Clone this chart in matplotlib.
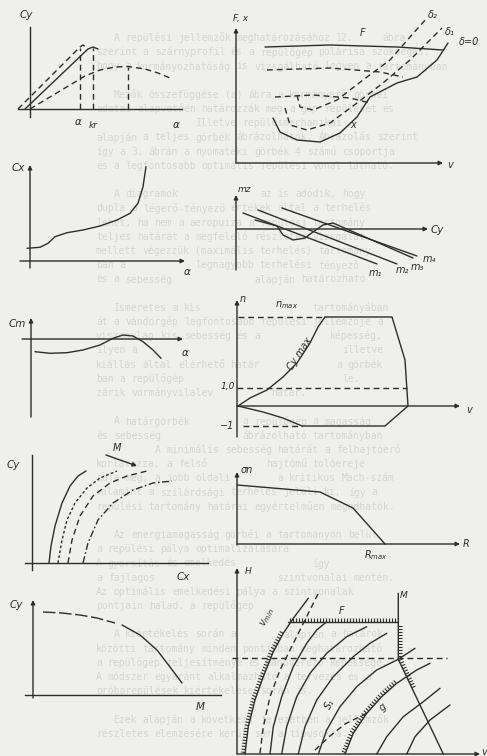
import re
import numpy as np
import matplotlib
matplotlib.use("Agg")
import matplotlib.pyplot as plt
from matplotlib.collections import LineCollection
from matplotlib.transforms import Bbox

W, H = 487, 756
INK = "#2d2d2d"
PAPER = "#efefed"
GHOST = "#d5d5d5"
GHOST_SIZE = 7.0
LW = 1.0
DASH = (0, (4.2, 2.8))

plt.rcParams["font.family"] = ["DejaVu Sans"]

# ---- Cy(alpha) ----
lift_a = [(-12, 0), (50, 62), (53, 64), (56, 62)]
lift_b = [(-5, 0), (58, 60), (63, 62), (68, 60)]
lift_c = [(0, 0), (30, 18), (55, 33), (70, 39), (85, 42), (98, 42.5), (115, 40), (128, 36), (140, 31)]
lift_drops = [(50, 61), (63, 61), (98, 42)]

# ---- F, x (v) ----
force_f = [(29, 116), (94, 118), (161, 116), (207, 113)]
force_d1 = [(31, 93), (94, 95), (144, 91), (167, 86)]
force_d2 = [(39, 66), (77, 68), (114, 65), (134, 60)]
stick_0 = [(37, 45), (44, 31), (61, 23), (84, 21), (104, 30), (121, 46), (134, 66),
           (161, 80), (181, 86), (201, 103), (212, 120)]
stick_1 = [(49, 55), (54, 38), (71, 33), (94, 40), (121, 60), (147, 80), (174, 103), (194, 123), (206, 135)]
stick_2 = [(61, 68), (64, 56), (77, 53), (101, 63), (127, 83), (154, 103), (174, 126), (191, 145)]

# ---- Cx(alpha) ----
drag = [(-3, 12.7), (10, 13.7), (18, 17.7), (25, 24.3), (37, 28.3), (53, 31), (70, 35),
        (87, 41), (100, 47.7), (108, 57.7), (113, 74.3), (116, 94.3)]

# ---- mz(Cy) ----
moment_m1 = [(7, 16), (141, -35)]
moment_m2 = [(22, 19), (161, -35)]
moment_m3 = [(19, 9), (41, 3), (47, -6), (57, -11), (69, -9), (77, -3), (87, 4), (97, 6), (177, -29)]
moment_m4 = [(46, 21), (181, -27)]
moment_tags = ["m₁", "m₂", "m₃", "m₄"]

# ---- Cm(alpha) ----
pitch = [(4, -12.7), (19, -14.3), (36, -13.7), (52, -11), (69, -6), (82, 0.7), (92, 4),
         (102, 3), (112, -2.7), (122, -11), (130, -19.3)]

# ---- n(v) envelope ----
load_env = [(88, 89), (155, 89), (168, 46), (171, 0), (148, -20), (65, -20), (46, -12), (26, -6), (1, 0)]
load_cymax = [(1, 0), (13, 8), (30, 16), (46, 29), (60, 43), (73, 63), (81, 79), (88, 89)]
load_levels = {"nmax": 89, "one": 18, "minus": -20}

# ---- Cy(Cx) polars ----
polar_1 = [(17, 0), (19, 17), (23, 37), (30, 60), (38, 77), (46, 87), (54, 92)]
polar_2 = [(26, 0), (30, 23), (35, 43), (43, 60), (55, 75), (68, 85), (85, 92)]
polar_3 = [(36, 0), (40, 23), (48, 47), (61, 67), (78, 80), (95, 87), (115, 92)]
polar_4 = [(51, 0), (56, 20), (66, 43), (81, 60), (101, 73), (121, 80), (140, 82)]

# ---- sigma_n(R) ----
turn = [(0, 59), (83, 52), (116, 36), (148, 0)]

# ---- Cy(M) ----
mach_dash = [(10, 83), (29, 82), (47, 80), (64, 77), (82, 72)]
mach_solid = [(89, 70), (107, 60), (124, 45), (137, 28), (149, 12)]

# ---- H(v) flight envelope ----
env_vmin = [(8, 0), (11.3, 27.3), (18, 54), (26.3, 77.3), (36.3, 102.3), (46.3, 120.7),
            (56.3, 135.7), (71.3, 155.7)]
env_dashed = [(23, 0.7), (26.3, 27.3), (33, 57.3), (43, 84), (54.7, 107.3), (66.3, 130.7), (81.3, 160.7)]
env_family = [
    [(33, 0), (36.3, 27.3), (44.7, 57.3), (56.3, 87.3), (69.7, 110.7), (79.7, 124), (89.7, 132.3)],
    [(44.7, 0), (49.7, 27.3), (59.7, 57.3), (73, 80.7), (89.7, 100.7), (109.7, 117.3), (129.7, 127.3)],
    [(61.3, 0), (68, 27.3), (79.7, 54), (96.3, 77.3), (116.3, 97.3), (133, 110.7), (149.7, 120.7)],
    [(81.3, 0), (89.7, 24), (103, 47.3), (119.7, 67.3), (139.7, 84), (161.3, 94.7), (178, 105.7)],
    [(108, 0), (116.3, 20.7), (129.7, 40.7), (144.7, 57.3), (159.7, 70.7), (179.7, 84), (193, 90.7)],
    [(139.7, 0), (149.7, 17.3), (166.3, 37.3), (186.3, 52.3), (203, 65.7)],
    [(169.7, 0), (178, 17.3), (193, 34), (213, 49)],
]
env_g_dash = [(78, 4), (93, 18), (108, 30), (129.7, 40.7)]
env_ceiling = [(51.3, 132.3), (161.3, 132.3)]
env_mach = [(161.3, 160.7), (161.3, 94.7), (206.3, 0)]
env_level = 95.7

page_text = [
    "   A repülési jellemzők meghatározásához 12. sz. ábra",
    "szerint a szárnyprofil és a repülőgép polárisa szükséges,",
    "hogy a kormányozhatóság is vizsgálható legyen a tartományban",
    "",
    "   Mezők összefüggése (a) ábra a kormányerő görbéi",
    "adatai alapvetően határozzák meg a gép repülését és",
    "aerodinamikáját. Illetve repülésmechanikai diagramok",
    "alapján a teljes görbék ábrázolhatók. Ábrázolás szerint",
    "így a 3. ábrán a nyomatéki görbék 4 számú csoportja",
    "és a legfontosabb optimális repülési vonal látható.",
    "",
    "   A diagramok segítségével az is adódik, hogy",
    "dupla a légerő-tényező értékek által a terhelés",
    "lehet, ha nem a aeropuiza a repülési tartomány",
    "teljes határát a megfelelő részletes vizsgálat",
    "mellett végezzük (maximális terhelés) tartomány-",
    "ban a mindenkori legnagyobb terhelési tényező",
    "és a sebesség összefüggése alapján határozható meg.",
    "",
    "   Ismeretes a kis magasságú repülés tartományában",
    "át a vándorgép legfontosabb repülési jellemzője a",
    "viszonylag kis sebesség és a manőverező képesség,",
    "ilyen a szárny-rendszerek terhelhetősége, illetve",
    "kiállás által elérhető határ sugár. Ezek a görbék",
    "ban a repülőgép ábrázolt tartománya zárul le.",
    "zárik vormányvilalev repülési határ.",
    "",
    "   A határgörbék szerint a repülőgép a magasság",
    "és sebesség függvényében ábrázolható tartományban",
    "mozoghat. A minimális sebesség határát a felhajtóerő",
    "korlátozza, a felső határt a hajtómű tolóereje",
    "adja meg, a jobb oldali határt a kritikus Mach-szám",
    "valamint a szilárdsági terhelés jelöli ki, így a",
    "repülési tartomány határai egyértelműen megadhatók.",
    "",
    "   Az energiamagasság görbéi a tartományon belül",
    "a repülési pálya optimalizálására használhatók.",
    "A gyorsítás és emelkedés lehetőségei így adódnak,",
    "a fajlagos többletteljesítmény szintvonalai mentén.",
    "Az optimális emelkedési pálya a szintvonalak érintési",
    "pontjain halad, a repülőgép típusától függően.",
    "",
    "   A kiértékelés során a görbék alapján a határok",
    "közötti tartomány minden pontjában meghatározható",
    "a repülőgép teljesítménye és manőverező képessége.",
    "A módszer egyaránt alkalmazható a tervezés és a",
    "próbarepülések kiértékelése során is.",
    "",
    "   Ezek alapján a következő fejezetben a jellemzők",
    "részletes elemzésére kerül sor a típusokra.",
    "",
]

labels_drawn = []


def new_panel(ox, oy, x0, x1, y0, y1):
    ax = fig.add_axes([(ox + x0) / W, 1 - (oy - y0) / H, (x1 - x0) / W, (y1 - y0) / H])
    ax.set_xlim(x0, x1)
    ax.set_ylim(y0, y1)
    ax.axis("off")
    return ax


def axis_line(ax, p0, p1, arrow=True):
    if arrow:
        ax.annotate("", xy=p1, xytext=p0,
                    arrowprops=dict(arrowstyle="-|>", color=INK, lw=LW, mutation_scale=6,
                                    shrinkA=0, shrinkB=0))
    else:
        ax.plot([p0[0], p1[0]], [p0[1], p1[1]], color=INK, lw=LW)


def curve(ax, pts, ls="-", lw=LW):
    x, y = np.array(pts, float).T
    ax.plot(x, y, color=INK, lw=lw, linestyle=ls, solid_capstyle="round",
            solid_joinstyle="round", dash_capstyle="butt")


def label(ax, x, y, s, size=7.5, **kw):
    kw.setdefault("ha", "center")
    kw.setdefault("va", "center")
    labels_drawn.append(ax.text(x, y, s, color=INK, fontsize=size, style="italic", **kw))


def hatch(ax, pts, step=3.0, length=4.0):
    # short ticks on the left-hand side of the path direction
    p = np.asarray(pts, float)
    seg = np.diff(p, axis=0)
    d = np.hypot(seg[:, 0], seg[:, 1])
    s = np.concatenate([[0], np.cumsum(d)])
    ticks = []
    for t in np.arange(step / 2, s[-1], step):
        i = int(np.clip(np.searchsorted(s, t) - 1, 0, len(seg) - 1))
        f = (t - s[i]) / d[i]
        base = p[i] + f * seg[i]
        tan = seg[i] / d[i]
        nrm = np.array([-tan[1], tan[0]])
        ticks.append([base, base + nrm * length])
    ax.add_collection(LineCollection(ticks, colors=INK, linewidths=0.8))


fig = plt.figure(figsize=(W / 100, H / 100), dpi=100)
fig.patch.set_facecolor(PAPER)

# page behind the sketches (text is filled in at the end)
bg = fig.add_axes([0, 0, 1, 1])
bg.set_xlim(0, W)
bg.set_ylim(H, 0)
bg.axis("off")

# Cy(alpha)
ax = new_panel(30, 109, -16, 185, -22, 100)
axis_line(ax, (0, -8), (0, 82), arrow=False)
axis_line(ax, (-12, 0), (152, 0), arrow=False)
curve(ax, lift_a, DASH)
curve(ax, lift_b)
curve(ax, lift_c, DASH)
for x, top in lift_drops:
    curve(ax, [(x, 0), (x, top)], DASH)
label(ax, -4, 94, "Cy")
label(ax, 48, -13, "α")
label(ax, 63, -16, "kr", size=6.5)
label(ax, 146, -16, "α")

# F, x (v)
ax = new_panel(236, 163, -8, 250, -4, 158)
axis_line(ax, (0, 0), (0, 135))
axis_line(ax, (0, 0), (207, 0))
curve(ax, force_f)
curve(ax, force_d1, DASH)
curve(ax, force_d2, DASH)
curve(ax, stick_0)
curve(ax, stick_1, DASH)
curve(ax, stick_2, DASH)
label(ax, 5, 145, "F, x", size=6.5)
label(ax, 127, 130, "F", size=7)
label(ax, 117, 38, "x", size=7)
label(ax, 197, 148, "δ₂", size=7)
label(ax, 214, 131, "δ₁", size=7)
label(ax, 233, 121, "δ=0", size=7)
label(ax, 214, -2, "v", size=7)

# Cx(alpha)
ax = new_panel(30, 261, -20, 165, -15, 100)
axis_line(ax, (0, -7), (0, 96))
axis_line(ax, (-10, 0), (155, 0))
curve(ax, drag)
label(ax, -12, 93, "Cx")
label(ax, 157, -11, "α")

# mz(Cy)
ax = new_panel(236, 229, -8, 205, -50, 40)
axis_line(ax, (0, -41), (0, 34))
axis_line(ax, (0, 0), (192, 0))
for pts in (moment_m1, moment_m2, moment_m3, moment_m4):
    curve(ax, pts)
for (x, y), tag in zip([(139, -44), (166, -41), (181, -38), (193, -30)], moment_tags):
    label(ax, x, y, tag, size=7)
label(ax, 8, 39, "mz", size=6.5)
label(ax, 201, -1, "Cy")

# Cm(alpha)
ax = new_panel(31, 339, -20, 165, -80, 25)
axis_line(ax, (0, -78), (0, 21))
axis_line(ax, (-9, 0), (152, 0))
curve(ax, pitch)
label(ax, -14, 15, "Cm")
label(ax, 154, -14, "α")

# n(v)
ax = new_panel(237, 406, -15, 245, -35, 112)
axis_line(ax, (0, -31), (0, 106))
axis_line(ax, (0, 0), (223, 0))
curve(ax, load_env)
curve(ax, load_cymax)
curve(ax, [(1, load_levels["nmax"]), (88, load_levels["nmax"])], DASH)
curve(ax, [(0, load_levels["one"]), (170, load_levels["one"])], DASH)
curve(ax, [(6, load_levels["minus"]), (65, load_levels["minus"])], DASH)
label(ax, 6, 107, "n", size=7)
label(ax, 50, 101, "n$_{max}$", size=7)
label(ax, 63, 52, "Cy max", size=7, rotation=57)
label(ax, -2, 19, "1,0", size=6.5, ha="right")
label(ax, -3, -20, "−1", size=7, ha="right")
label(ax, 232, -4, "v", size=7)

# Cy(Cx) polars
ax = new_panel(32, 563, -22, 185, -18, 120)
axis_line(ax, (0, -7), (0, 108), arrow=False)
axis_line(ax, (-7, 0), (176, 0), arrow=False)
curve(ax, polar_1)
curve(ax, polar_2, (0, (2.0, 1.6)))
curve(ax, polar_3, DASH)
curve(ax, polar_4, (0, (5, 1.8, 1.2, 1.8)))
ax.annotate("", xy=(105, 97), xytext=(74, 108),
            arrowprops=dict(arrowstyle="-|>", color=INK, lw=LW, mutation_scale=6,
                            shrinkA=0, shrinkB=0))
label(ax, 85, 115, "M", size=7)
label(ax, -19, 98, "Cy")
label(ax, 151, -14, "Cx")

# sigma_n(R)
ax = new_panel(237, 544, -5, 245, -18, 80)
axis_line(ax, (0, -1), (0, 72))
axis_line(ax, (0, 0), (223, 0))
curve(ax, turn)
label(ax, 10, 74, "σn", size=7)
label(ax, 229, 0, "R", size=7)
label(ax, 139, -11, "R$_{max}$", size=7)

# Cy(M)
ax = new_panel(33, 695, -22, 200, -16, 100)
axis_line(ax, (0, -3), (0, 95))
axis_line(ax, (-8, 0), (188, 0), arrow=False)
curve(ax, mach_dash, (0, (9, 2.6)))
curve(ax, mach_solid)
label(ax, -17, 90, "Cy")
label(ax, 167, -12, "M")

# H(v)
ax = new_panel(237, 754, -10, 250, -2, 190)
axis_line(ax, (0, 0), (0, 186))
axis_line(ax, (0, 0), (243, 0))
curve(ax, env_vmin)
hatch(ax, env_vmin[:6], length=4)
curve(ax, env_dashed, DASH)
for pts in env_family:
    curve(ax, pts)
hatch(ax, env_family[4][:5], length=4)
curve(ax, env_g_dash, DASH)
curve(ax, env_ceiling)
hatch(ax, env_ceiling, length=4)
curve(ax, env_mach)
hatch(ax, [(161.3, 130), (161.3, 96)], length=4)
hatch(ax, [(161.3, 94.7), (175, 66)], length=4)
curve(ax, [(-5, env_level), (210, env_level)], DASH)
label(ax, 11, 182, "H", size=6.5)
label(ax, 105, 143, "F", size=7)
label(ax, 167, 159, "M", size=6.5)
label(ax, 31, 137, "v$_{min}$", size=7, rotation=62)
label(ax, 93, 50, "S₁", size=7, rotation=60)
label(ax, 146, 47, "g", size=7, rotation=40)
label(ax, 247, 2, "v", size=7)

# faint typewriter text showing through the page; words hidden under labels are skipped
renderer = fig.canvas.get_renderer()
covers = [t.get_window_extent(renderer).expanded(1.15, 1.25) for t in labels_drawn]
cw = 0.602 * GHOST_SIZE * 100 / 72
for k, line in enumerate(page_text):
    y = 38 + 14.2 * k
    for m in re.finditer(r"\S+", line):
        x = 96 + m.start() * cw
        box = Bbox.from_extents(x, H - y - 4.5, x + len(m.group()) * cw, H - y + 4.5)
        if any(box.overlaps(c) for c in covers):
            continue
        bg.text(x, y, m.group(), color=GHOST, fontsize=GHOST_SIZE,
                family="DejaVu Sans Mono", va="center", ha="left", clip_on=True)

fig.savefig("out.png", dpi=100, facecolor=fig.get_facecolor())
